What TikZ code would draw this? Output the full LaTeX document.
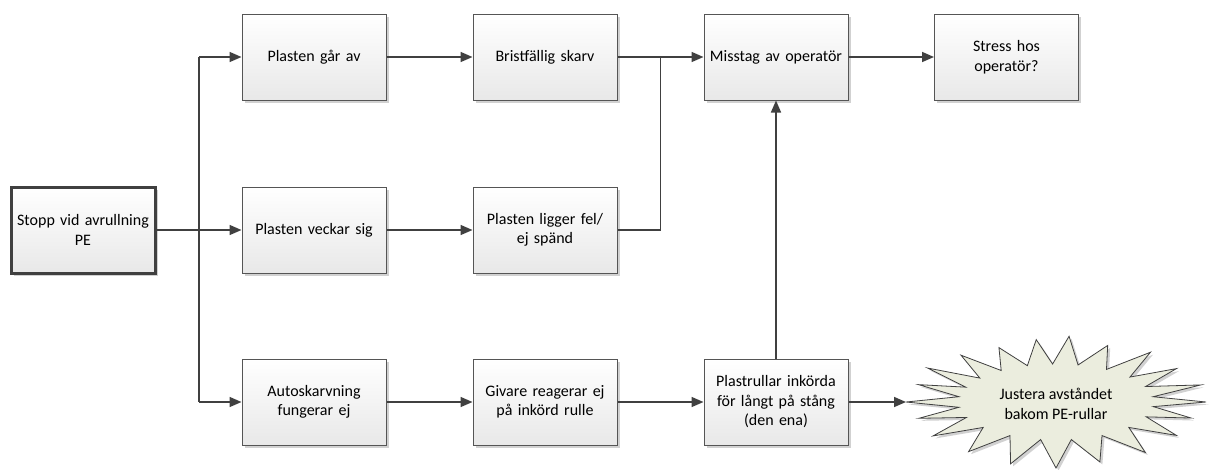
\documentclass[tikz,border=0pt]{standalone}
\usepackage{fontspec}
\setmainfont{Carlito}
\usetikzlibrary{arrows.meta,calc,shadows}
\definecolor{edgegray}{RGB}{85,85,85}
\definecolor{linegray}{RGB}{64,64,64}
\definecolor{burstfill}{RGB}{235,237,222}
\tikzset{
  stepbox/.style={draw=edgegray, line width=1pt, top color=white, bottom color=black!9,
    minimum width=144pt, minimum height=86pt, inner sep=2pt, text width=138pt,
    align=center, font=\fontsize{16}{19.5}\selectfont,
    drop shadow={shadow xshift=2.5pt, shadow yshift=-2.5pt, opacity=0.18, fill=black}},
  rootbox/.style={stepbox, draw=linegray, line width=3pt},
  arr/.style={draw=linegray, line width=1.6pt, -{Triangle[length=12pt,width=10pt]}},
  link/.style={draw=linegray, line width=1.6pt},
}
\begin{document}
\begin{tikzpicture}[x=1pt,y=-1pt]
\useasboundingbox (0,0) rectangle (1211,469);

% starburst: alternating spike tips and inner corners around (1056,402)
\coordinate (bursttip) at (906,402);
\filldraw[fill=burstfill, draw=linegray, line width=0.8pt, line join=miter,
  drop shadow={shadow xshift=2.5pt, shadow yshift=-2.5pt, opacity=0.18, fill=black}]
  (bursttip)
  \foreach \a/\p/\q in {188/98/38, 196/143/63, 203/98/38, 211/150/66, 219/98/38,
      228/142/63, 236/98/38, 245/135/60, 253/98/38, 262/142/63, 268/98/38,
      275/150/66, 283/98/38, 292/138/61, 301/98/38, 310/147/65, 319/98/38,
      328/142/63, 336/98/38, 345/150/66, 352/98/38, 360/150/66, 7/98/38,
      15/140/62, 23/98/38, 32/142/63, 42/98/38, 52/145/64, 62/98/38,
      72/142/63, 81/98/38, 90/150/66, 99/98/38, 108/147/65, 118/98/38,
      128/142/63, 138/98/38, 148/145/64, 156/98/38, 165/142/63, 172/98/38}
    { -- ({1056+\p*cos(\a)},{402+\q*sin(\a)}) } -- cycle;
\node[align=center, font=\fontsize{16}{19.5}\selectfont] (adjust) at (1056,404)
  {Justera avståndet\\bakom PE-rullar};

% boxes
\node[rootbox] (root) at (83,230) {Stopp vid avrullning\\PE};

\node[stepbox] (a2) at (314,57) {Plasten går av};
\node[stepbox] (b2) at (314,230) {Plasten veckar sig};
\node[stepbox] (c2) at (314,402) {Autoskarvning\\fungerar ej};

\node[stepbox] (a3) at (545,57) {Bristfällig skarv};
\node[stepbox] (b3) at (545,230) {Plasten ligger fel/\\ej spänd};
\node[stepbox] (c3) at (545,402) {Givare reagerar ej\\på inkörd rulle};

\node[stepbox] (a4) at (776,57) {Misstag av operatör};
\node[stepbox] (c4) at (776,402) {Plastrullar inkörda\\för långt på stång\\(den ena)};

\node[stepbox] (a5) at (1006.5,57) {Stress hos\\operatör?};

% connectors
\draw[arr] (root.east) -- (b2.west);
\draw[link] ($(root.east)!0.5!(b2.west)$) coordinate (trunk) -- (trunk |- a2.west);
\draw[link] (trunk) -- (trunk |- c2.west);
\draw[arr] (trunk |- a2.west) -- (a2.west);
\draw[arr] (trunk |- c2.west) -- (c2.west);

\draw[arr] (a2.east) -- (a3.west);
\draw[arr] (b2.east) -- (b3.west);
\draw[arr] (c2.east) -- (c3.west);

\draw[arr] (a3.east) -- (a4.west);
\draw[link] (b3.east) -| ($(a3.east)!0.5!(a4.west)$);
\draw[arr] (c3.east) -- (c4.west);

\draw[arr] (c4.north) -- (a4.south);
\draw[arr] (a4.east) -- (a5.west);
\draw[arr] (c4.east) -- (bursttip);
\end{tikzpicture}
\end{document}
